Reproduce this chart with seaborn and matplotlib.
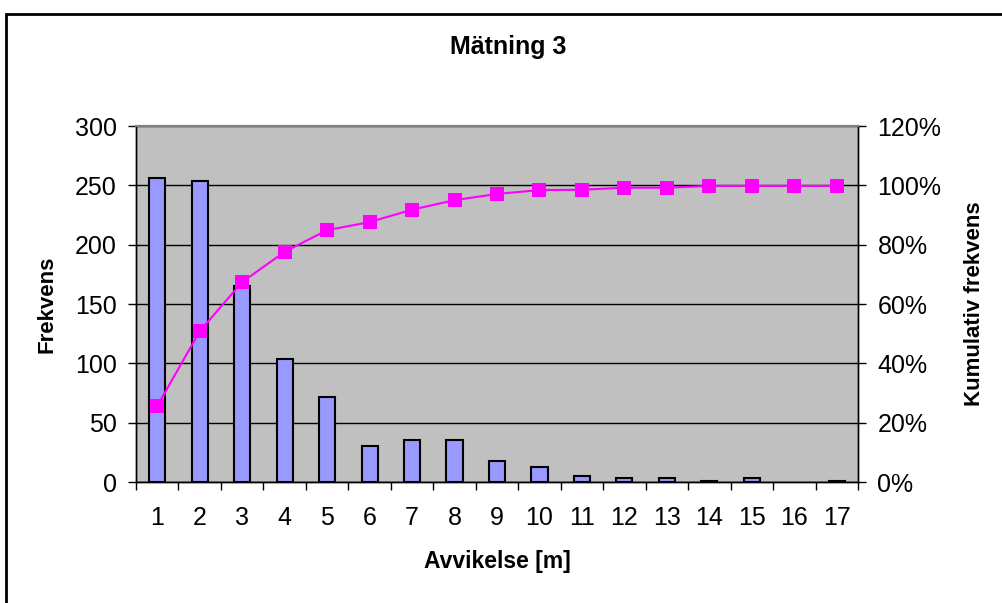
import numpy as np
import matplotlib
matplotlib.use("Agg")
import matplotlib.pyplot as plt
from matplotlib.patches import Rectangle
from matplotlib.ticker import FuncFormatter
import seaborn as sns

# data
categories = [str(i) for i in range(1, 18)]
frekvens = [256, 254, 165, 104, 72, 30, 35, 35, 18, 13, 5, 3, 3, 1, 3, 0, 1]
kumulativ = [25.6, 50.8, 67.4, 77.6, 84.9, 87.6, 91.8, 95.0, 97.1, 98.4, 98.5, 99.2, 99.2, 99.8, 99.8, 99.8, 99.8]

sns.set_style("white")
plt.rcParams['font.family'] = ['Liberation Sans', 'DejaVu Sans']
plt.rcParams.update({'text.color': 'black', 'axes.labelcolor': 'black',
                     'xtick.color': 'black', 'ytick.color': 'black'})

fig = plt.figure(figsize=(10.02, 6.03), dpi=100)
ax = fig.add_axes([136 / 1002, 1 - 482 / 603, 722 / 1002, 356 / 603])
ax.set_facecolor('#C0C0C0')

sns.barplot(x=categories, y=frekvens, color='#9999FF', edgecolor='black',
            linewidth=1.5, width=0.38, saturation=1, ax=ax, zorder=3)
# Excel draws nothing for an empty class
for p in ax.patches:
    if p.get_height() == 0:
        p.set_visible(False)

ax.set_ylim(0, 300)
ax.set_xlim(-0.5, 16.5)
ax.set_yticks(range(0, 301, 50))
ax.yaxis.grid(True, color='black', linewidth=1)
ax.set_axisbelow(True)

# tick marks between categories, labels at the centres
ax.set_xticks(np.arange(-0.5, 17, 1))
ax.set_xticklabels([])
ax.set_xticks(np.arange(17), minor=True)
ax.set_xticklabels(categories, minor=True)
ax.tick_params(axis='x', which='major', direction='out', length=6, width=1, bottom=True)
ax.tick_params(axis='x', which='minor', length=0, pad=17, labelsize=18)
ax.tick_params(axis='y', direction='out', length=6, width=1, pad=8, labelsize=18, left=True)

ax.set_xlabel('Avvikelse [m]', fontsize=16.5, fontweight='bold', labelpad=15)
ax.set_ylabel('Frekvens', fontsize=16, fontweight='bold', labelpad=12)

ax2 = ax.twinx()
sns.lineplot(x=np.arange(17), y=kumulativ, ax=ax2, color='#FF00FF', linewidth=1.5,
             marker='s', markersize=9.5, markeredgewidth=0, zorder=5)
ax2.set_ylim(0, 120)
ax2.set_yticks(range(0, 121, 20))
ax2.yaxis.set_major_formatter(FuncFormatter(lambda v, p: f'{v:.0f}%'))
ax2.tick_params(axis='y', direction='out', length=6, width=1, pad=8, labelsize=18, right=True)
ax2.set_ylabel('Kumulativ frekvens', fontsize=16, fontweight='bold', labelpad=16)

for a in (ax, ax2):
    for side in ('left', 'bottom', 'right'):
        a.spines[side].set_color('black')
        a.spines[side].set_linewidth(1)
    a.spines['top'].set_color('#808080')
    a.spines['top'].set_linewidth(1.5)

fig.text(508 / 1002, 1 - 47 / 603, 'Mätning 3', ha='center', va='center',
         fontsize=18, fontweight='bold')

# chart area border (cut off at right and bottom)
fig.patches.append(Rectangle((6 / 1002, -0.1), 1.2, 1.1 - 14 / 603, transform=fig.transFigure,
                             fill=False, edgecolor='black', linewidth=2))

fig.savefig('out.png', dpi=100, facecolor='white')
